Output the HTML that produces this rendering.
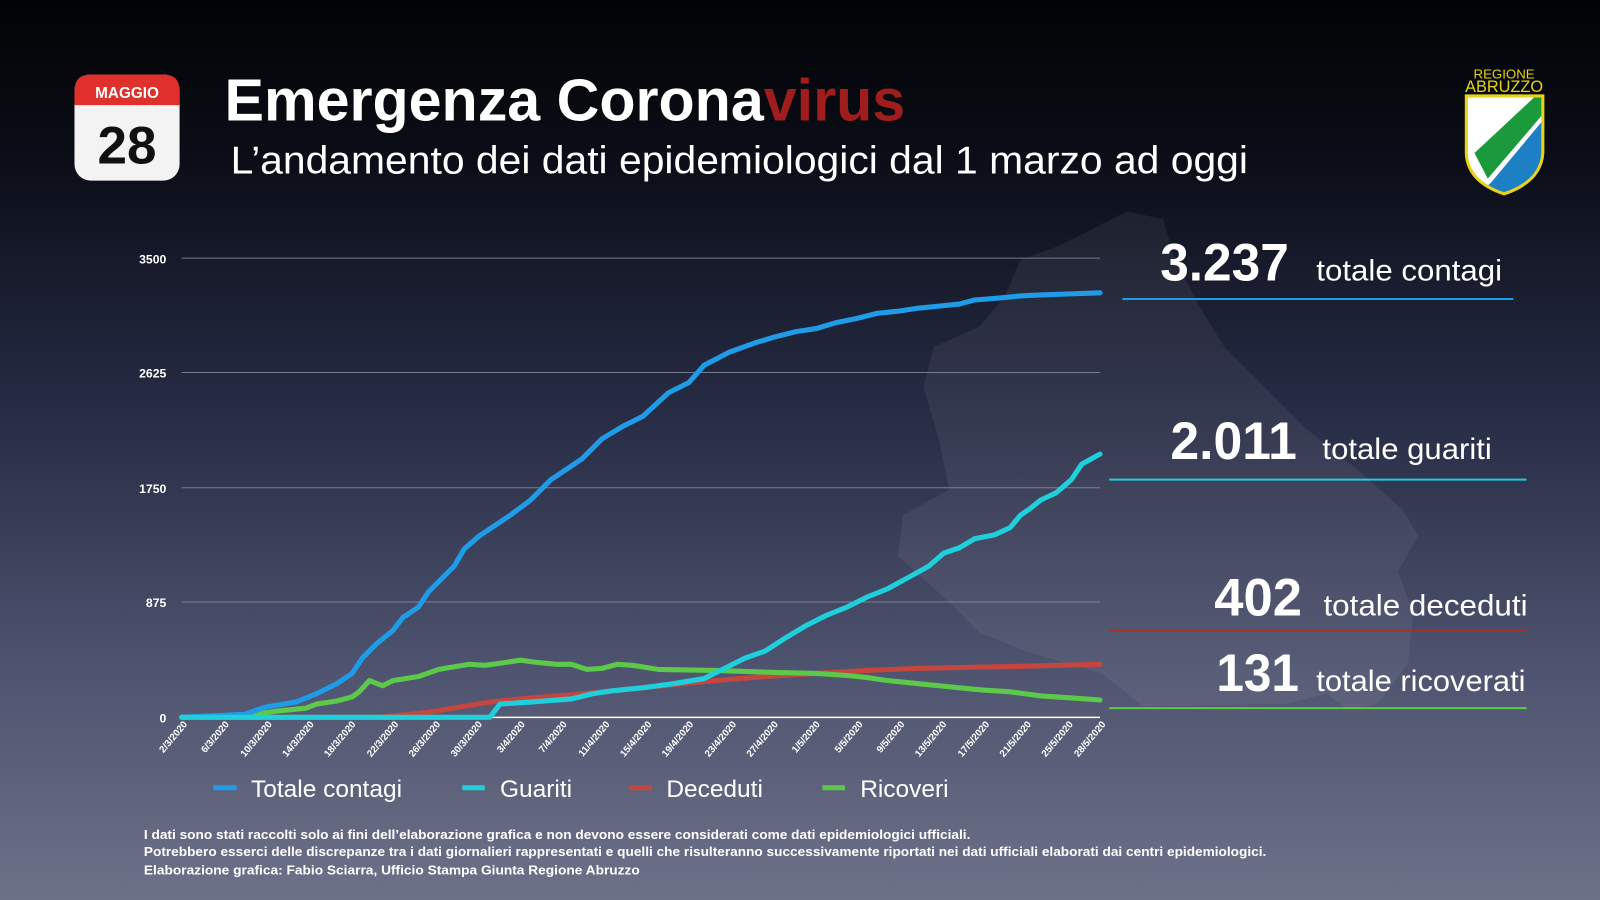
<!DOCTYPE html>
<html><head><meta charset="utf-8"><style>
html,body{margin:0;padding:0;width:1600px;height:900px;overflow:hidden;background:#000}
svg{display:block}
text{font-family:"Liberation Sans",sans-serif}
</style></head><body>
<svg width="1600" height="900" viewBox="0 0 1568 882" preserveAspectRatio="none" xmlns="http://www.w3.org/2000/svg">
<defs>
<linearGradient id="bg" x1="0" y1="0" x2="0" y2="1">
<stop offset="0" stop-color="#020304"/>
<stop offset="0.18" stop-color="#0b0e18"/>
<stop offset="0.45" stop-color="#262b44"/>
<stop offset="0.75" stop-color="#4f5470"/>
<stop offset="1" stop-color="#6d7188"/>
</linearGradient>
<clipPath id="sh"><path d="M1437 94 H1512 V150 Q1510 178 1474 190 Q1438 178 1437 150 Z"/></clipPath>
</defs>
<rect width="1568" height="882" fill="url(#bg)"/>
<!-- map -->
<path d="M1105 207 L1140 215 L1150 250 L1175 300 L1200 340 L1240 380 L1280 420 L1330 460 L1375 500 L1390 525 L1370 560 L1385 600 L1380 650 L1350 690 L1320 695 L1300 680 L1260 690 L1120 692 L1080 660 L1010 640 L960 620 L930 590 L880 545 L885 505 L930 480 L920 430 L905 380 L915 340 L960 320 L985 290 L1000 255 L1040 240 L1070 225 Z" fill="#ffffff" opacity="0.06"/>
<!-- calendar -->
<rect x="73" y="73" width="103" height="104" rx="16" fill="#f3f3f3"/>
<path d="M73 103 V89 Q73 73 89 73 H160 Q176 73 176 89 V103 Z" fill="#e0302c"/>
<text x="124.5" y="96" text-anchor="middle" font-size="15" font-weight="bold" fill="#fff">MAGGIO</text>
<text x="124.5" y="160" text-anchor="middle" font-size="52" font-weight="bold" fill="#111">28</text>
<!-- titles -->
<text x="220" y="118" font-size="58" font-weight="bold" fill="#fff">Emergenza Corona<tspan fill="#a11d1d">virus</tspan></text>
<text x="226" y="170" font-size="38" fill="#fff" textLength="997" lengthAdjust="spacingAndGlyphs">L’andamento dei dati epidemiologici dal 1 marzo ad oggi</text>
<!-- logo -->
<text x="1474" y="77" text-anchor="middle" font-family="Liberation Serif,serif" font-size="13" fill="#e8d21a">REGIONE</text>
<text x="1474" y="90" text-anchor="middle" font-family="Liberation Serif,serif" font-size="16" fill="#e8d21a">ABRUZZO</text>
<g clip-path="url(#sh)">
<rect x="1430" y="90" width="90" height="110" fill="#fff"/>
<path d="M1445 150 L1505 94 L1512 94 L1512 112 L1458 175 Z" fill="#1a9a3a"/>
<path d="M1462 178 L1512 118 L1512 200 L1440 200 Z" fill="#1d7fc4"/>
</g>
<path d="M1437 94 H1512 V150 Q1510 178 1474 190 Q1438 178 1437 150 Z" fill="none" stroke="#e8d21a" stroke-width="3"/>
<!-- grid -->
<g stroke="#8a8fa5" stroke-width="1" opacity="0.8">
<line x1="178" y1="253" x2="1078" y2="253"/><line x1="178" y1="365" x2="1078" y2="365"/>
<line x1="178" y1="478" x2="1078" y2="478"/><line x1="178" y1="590" x2="1078" y2="590"/>
</g>
<line x1="178" y1="703" x2="1078" y2="703" stroke="#fff" stroke-width="1.5"/>
<g font-size="12" font-weight="bold" fill="#fff" text-anchor="end">
<text x="163" y="258">3500</text><text x="163" y="370">2625</text><text x="163" y="483">1750</text><text x="163" y="595">875</text><text x="163" y="708">0</text>
</g>
<!-- x labels -->
<g font-size="9.5" font-weight="bold" fill="#fff" text-anchor="end">
<text transform="translate(184,710) rotate(-50)">2/3/2020</text>
<text transform="translate(225,710) rotate(-50)">6/3/2020</text>
<text transform="translate(267,710) rotate(-50)">10/3/2020</text>
<text transform="translate(308,710) rotate(-50)">14/3/2020</text>
<text transform="translate(349,710) rotate(-50)">18/3/2020</text>
<text transform="translate(391,710) rotate(-50)">22/3/2020</text>
<text transform="translate(432,710) rotate(-50)">26/3/2020</text>
<text transform="translate(473,710) rotate(-50)">30/3/2020</text>
<text transform="translate(515,710) rotate(-50)">3/4/2020</text>
<text transform="translate(556,710) rotate(-50)">7/4/2020</text>
<text transform="translate(598,710) rotate(-50)">11/4/2020</text>
<text transform="translate(639,710) rotate(-50)">15/4/2020</text>
<text transform="translate(680,710) rotate(-50)">19/4/2020</text>
<text transform="translate(722,710) rotate(-50)">23/4/2020</text>
<text transform="translate(763,710) rotate(-50)">27/4/2020</text>
<text transform="translate(804,710) rotate(-50)">1/5/2020</text>
<text transform="translate(846,710) rotate(-50)">5/5/2020</text>
<text transform="translate(887,710) rotate(-50)">9/5/2020</text>
<text transform="translate(928,710) rotate(-50)">13/5/2020</text>
<text transform="translate(970,710) rotate(-50)">17/5/2020</text>
<text transform="translate(1011,710) rotate(-50)">21/5/2020</text>
<text transform="translate(1052,710) rotate(-50)">25/5/2020</text>
<text transform="translate(1084,710) rotate(-50)">28/5/2020</text>
</g>
<!-- series -->
<g fill="none" stroke-width="5" stroke-linejoin="round" stroke-linecap="round">
<polyline stroke="#c4463e" points="178,703 370,703 420,698 480,688 520,684 560,681 600,677 650,672 700,667 750,663 800,660 850,657 900,655 950,654 1000,653 1078,651"/>
<polyline stroke="#5cc94a" points="178,703 250,700 270,697 300,694 310,690 330,687 345,683 352,678 362,667 375,672 385,667 410,663 430,656 460,651 475,652 490,650 510,647 525,649 545,651 560,651 575,656 590,655 605,651 620,652 645,656 700,657 760,659 800,660 830,662 850,664 870,667 900,670 930,673 960,676 990,678 1020,682 1050,684 1078,686"/>
<polyline stroke="#1f9be8" points="178,703 240,700 260,693 290,688 310,680 330,670 345,660 355,645 370,630 385,618 395,605 410,595 420,580 430,570 445,555 455,538 470,525 485,515 500,505 520,490 530,480 540,470 555,460 570,450 590,430 610,418 630,408 655,385 675,375 690,358 715,345 740,336 760,330 780,325 800,322 820,316 840,312 860,307 880,305 900,302 920,300 940,298 955,294 980,292 1000,290 1020,289 1050,288 1078,287"/>
<polyline stroke="#1fcfdc" points="178,703 480,703 490,690 520,688 560,685 580,680 600,677 630,674 660,670 690,665 710,655 730,645 750,638 770,625 790,613 810,603 830,595 850,585 870,577 890,566 910,555 925,542 940,537 955,528 975,524 990,517 1000,505 1010,498 1020,490 1035,483 1050,470 1060,455 1078,445"/>
</g>
<!-- right totals -->
<g fill="#fff">
<text x="1137" y="275" font-size="52" font-weight="bold" textLength="126" lengthAdjust="spacingAndGlyphs">3.237</text>
<text x="1290" y="275" font-size="29" textLength="182" lengthAdjust="spacingAndGlyphs">totale contagi</text>
<text x="1147" y="450" font-size="52" font-weight="bold" textLength="124" lengthAdjust="spacingAndGlyphs">2.011</text>
<text x="1296" y="450" font-size="29" textLength="166" lengthAdjust="spacingAndGlyphs">totale guariti</text>
<text x="1190" y="603" font-size="52" font-weight="bold" textLength="86" lengthAdjust="spacingAndGlyphs">402</text>
<text x="1297" y="603" font-size="29" textLength="200" lengthAdjust="spacingAndGlyphs">totale deceduti</text>
<text x="1192" y="677" font-size="52" font-weight="bold" textLength="81" lengthAdjust="spacingAndGlyphs">131</text>
<text x="1290" y="677" font-size="29" textLength="205" lengthAdjust="spacingAndGlyphs">totale ricoverati</text>
</g>
<line x1="1100" y1="293" x2="1483" y2="293" stroke="#1f9be8" stroke-width="2"/>
<line x1="1087" y1="470" x2="1496" y2="470" stroke="#1fcfdc" stroke-width="2"/>
<line x1="1087" y1="618" x2="1496" y2="618" stroke="#a8302c" stroke-width="2"/>
<line x1="1087" y1="694" x2="1496" y2="694" stroke="#5cc94a" stroke-width="2"/>
<!-- legend -->
<g stroke-width="5">
<line x1="209" y1="772" x2="232" y2="772" stroke="#1f9be8"/>
<line x1="453" y1="772" x2="475" y2="772" stroke="#1fcfdc"/>
<line x1="617" y1="772" x2="639" y2="772" stroke="#c4463e"/>
<line x1="806" y1="772" x2="828" y2="772" stroke="#5cc94a"/>
</g>
<g font-size="24" fill="#fff">
<text x="246" y="781">Totale contagi</text>
<text x="490" y="781">Guariti</text>
<text x="653" y="781">Deceduti</text>
<text x="843" y="781">Ricoveri</text>
</g>
<g font-size="12.5" font-weight="bold" fill="#fff">
<text x="141" y="822" textLength="810" lengthAdjust="spacingAndGlyphs">I dati sono stati raccolti solo ai fini dell’elaborazione grafica e non devono essere considerati come dati epidemiologici ufficiali.</text>
<text x="141" y="839" textLength="1100" lengthAdjust="spacingAndGlyphs">Potrebbero esserci delle discrepanze tra i dati giornalieri rappresentati e quelli che risulteranno successivamente riportati nei dati ufficiali elaborati dai centri epidemiologici.</text>
<text x="141" y="857" textLength="486" lengthAdjust="spacingAndGlyphs">Elaborazione grafica: Fabio Sciarra, Ufficio Stampa Giunta Regione Abruzzo</text>
</g>
</svg>
</body></html>
